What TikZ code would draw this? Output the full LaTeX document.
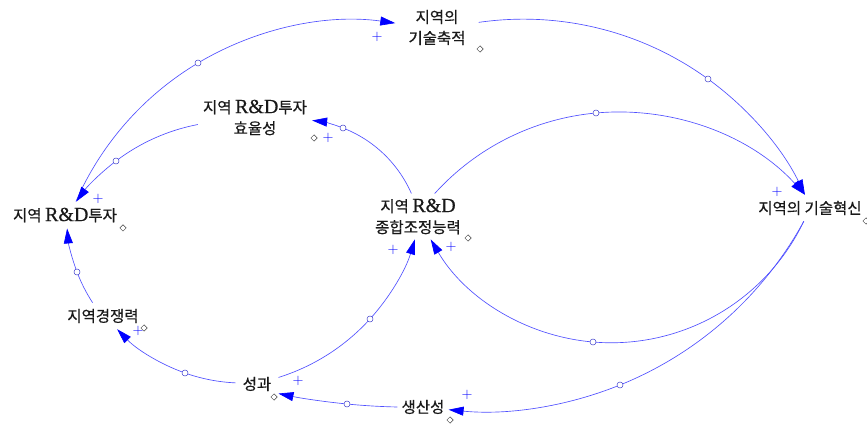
\documentclass[tikz,border=0pt]{standalone}
\usepackage{fontspec}
\setmainfont{Noto Sans CJK KR}[FakeBold=0.6]
\newfontfamily\rdfamily{Liberation Serif}[FakeBold=0.4]
\usetikzlibrary{arrows.meta,shapes.geometric,hobby}
\newcommand{\RD}{{\rdfamily\fontsize{20}{21}\selectfont R\&D}}
\definecolor{linkblue}{RGB}{80,80,255}
\definecolor{tipblue}{RGB}{0,0,255}

\tikzset{
  var/.style={font=\fontsize{15.5}{21}\selectfont, align=center, inner sep=5pt, text=black!90},
  link/.style={draw=linkblue, line width=0.65pt, -{Triangle[length=15pt,width=9pt,color=tipblue]}},
  handle/.style={circle, draw=linkblue!80!black, fill=white, line width=0.5pt, inner sep=0pt, minimum size=6pt},
  pol/.style={text=tipblue, font=\fontsize{15}{15}\selectfont, inner sep=0pt},
  vmark/.style={diamond, draw=black!75, fill=white, line width=0.5pt, inner sep=0pt, minimum size=6.5pt}
}

\begin{document}
\begin{tikzpicture}[x=1pt, y=1pt]
\useasboundingbox (0,0) rectangle (867,423);

% Variables
\node[var, inner xsep=13pt] (nA) at (437,395.5) {지역의\\기술축적};
\node[var] (nB) at (255,305.5) {지역 \RD{}투자\\효율성};
\node[var, inner sep=6pt] (nC) at (65,208) {지역 \RD{}투자};
\node[var] (nD) at (418,206.5) {지역 \RD\\종합조정능력};
\node[var, inner sep=6pt] (nE) at (810,215) {지역의 기술혁신};
\node[var, inner sep=6pt] (nF) at (103,107) {지역경쟁력};
\node[var, inner sep=7pt] (nG) at (257,39) {성과};
\node[var, inner sep=4pt] (nH) at (423,16) {생산성};

% Handles of the arcs
\coordinate (m1) at (198,360);
\coordinate (m2) at (116,262);
\coordinate (m3) at (343,295);
\coordinate (m4) at (708,344);
\coordinate (m5) at (596,310);
\coordinate (m6) at (593,81);
\coordinate (m7) at (620,38);
\coordinate (m8) at (347,19);
\coordinate (m9) at (370,104);
\coordinate (m10) at (185,50);
\coordinate (m11) at (77,151);

% Causal links
\draw[link] (nC.51) to[curve through={(m1)}] (nA.174);
\draw[link] (nB.187) to[curve through={(m2)}] (nC.50);
\draw[link] (nD.106) to[curve through={(m3)}] (nB.-3);
\draw[link] (nA.7) to[curve through={(m4)}] (nE.111);
\draw[link] (nD.54) to[curve through={(m5)}] (nE.111);
\draw[link] (nE.-115) to[curve through={(m6)}] (nD.-61);
\draw[link] (nE.-115) to[curve through={(m7)}] (nH.-6);
\draw[link] (nH.180) to[curve through={(m8)}] (nG.-24);
\draw[link] (nG.17) to[curve through={(m9)}] (nD.-98);
\draw[link] (nG.177) to[curve through={(m10)}] (nF.-43);
\draw[link] (nF.128) to[curve through={(m11)}] (nC.-81);

\foreach \i in {1,...,11}
  \node[handle] at (m\i) {};

% Polarities
\foreach \p in {(377,386),(98,224),(328,285),(777,231),(393,173),(451,176),(138,92),(298,42),(467,28)}
  \node[pol] at \p {$+$};

% Variable marks
\foreach \q in {(480,374),(314,285),(123,195),(468,185),(866,202),(144,95),(274,26),(450,3)}
  \node[vmark] at \q {};
\end{tikzpicture}
\end{document}
